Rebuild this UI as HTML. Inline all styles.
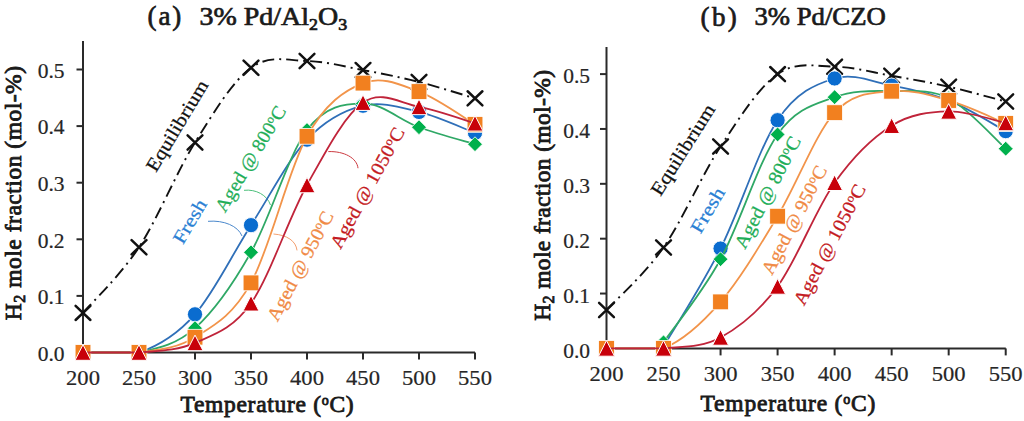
<!DOCTYPE html>
<html><head><meta charset="utf-8"><style>
html,body{margin:0;padding:0;background:#fff;}
body{width:1024px;height:421px;overflow:hidden;}
svg{display:block;}
text{font-family:"Liberation Serif",serif;}
.tk{font-size:21.5px;fill:#262626;stroke:#262626;stroke-width:0.2px;}
.tt{font-size:25px;font-weight:normal;fill:#1a1a1a;stroke:#1a1a1a;stroke-width:0.7px;}
.at{font-size:23.5px;font-weight:normal;fill:#1a1a1a;stroke:#1a1a1a;stroke-width:0.85px;}
.lb{font-size:19px;stroke-width:0.25px;}
</style></head><body>
<svg width="1024" height="421" viewBox="0 0 1024 421">
<path d="M83.00,41.00 V352.50 H475.00" fill="none" stroke="#2a2a2a" stroke-width="2"/>
<line x1="76.50" y1="352.50" x2="83.00" y2="352.50" stroke="#2a2a2a" stroke-width="2"/>
<line x1="76.50" y1="295.90" x2="83.00" y2="295.90" stroke="#2a2a2a" stroke-width="2"/>
<line x1="76.50" y1="239.30" x2="83.00" y2="239.30" stroke="#2a2a2a" stroke-width="2"/>
<line x1="76.50" y1="182.70" x2="83.00" y2="182.70" stroke="#2a2a2a" stroke-width="2"/>
<line x1="76.50" y1="126.10" x2="83.00" y2="126.10" stroke="#2a2a2a" stroke-width="2"/>
<line x1="76.50" y1="69.50" x2="83.00" y2="69.50" stroke="#2a2a2a" stroke-width="2"/>
<line x1="83.00" y1="352.50" x2="83.00" y2="359.50" stroke="#2a2a2a" stroke-width="2"/>
<line x1="139.00" y1="352.50" x2="139.00" y2="359.50" stroke="#2a2a2a" stroke-width="2"/>
<line x1="195.00" y1="352.50" x2="195.00" y2="359.50" stroke="#2a2a2a" stroke-width="2"/>
<line x1="251.00" y1="352.50" x2="251.00" y2="359.50" stroke="#2a2a2a" stroke-width="2"/>
<line x1="307.00" y1="352.50" x2="307.00" y2="359.50" stroke="#2a2a2a" stroke-width="2"/>
<line x1="363.00" y1="352.50" x2="363.00" y2="359.50" stroke="#2a2a2a" stroke-width="2"/>
<line x1="419.00" y1="352.50" x2="419.00" y2="359.50" stroke="#2a2a2a" stroke-width="2"/>
<line x1="475.00" y1="352.50" x2="475.00" y2="359.50" stroke="#2a2a2a" stroke-width="2"/>
<path d="M606.50,47.00 V348.40 H1005.80" fill="none" stroke="#2a2a2a" stroke-width="2"/>
<line x1="600.00" y1="348.40" x2="606.50" y2="348.40" stroke="#2a2a2a" stroke-width="2"/>
<line x1="600.00" y1="293.54" x2="606.50" y2="293.54" stroke="#2a2a2a" stroke-width="2"/>
<line x1="600.00" y1="238.68" x2="606.50" y2="238.68" stroke="#2a2a2a" stroke-width="2"/>
<line x1="600.00" y1="183.82" x2="606.50" y2="183.82" stroke="#2a2a2a" stroke-width="2"/>
<line x1="600.00" y1="128.96" x2="606.50" y2="128.96" stroke="#2a2a2a" stroke-width="2"/>
<line x1="600.00" y1="74.10" x2="606.50" y2="74.10" stroke="#2a2a2a" stroke-width="2"/>
<line x1="606.50" y1="348.40" x2="606.50" y2="355.40" stroke="#2a2a2a" stroke-width="2"/>
<line x1="663.53" y1="348.40" x2="663.53" y2="355.40" stroke="#2a2a2a" stroke-width="2"/>
<line x1="720.56" y1="348.40" x2="720.56" y2="355.40" stroke="#2a2a2a" stroke-width="2"/>
<line x1="777.59" y1="348.40" x2="777.59" y2="355.40" stroke="#2a2a2a" stroke-width="2"/>
<line x1="834.62" y1="348.40" x2="834.62" y2="355.40" stroke="#2a2a2a" stroke-width="2"/>
<line x1="891.65" y1="348.40" x2="891.65" y2="355.40" stroke="#2a2a2a" stroke-width="2"/>
<line x1="948.68" y1="348.40" x2="948.68" y2="355.40" stroke="#2a2a2a" stroke-width="2"/>
<line x1="1005.71" y1="348.40" x2="1005.71" y2="355.40" stroke="#2a2a2a" stroke-width="2"/>
<text transform="translate(64.50,360.70) scale(1.000,1)" text-anchor="end" class="tk">0.0</text>
<text transform="translate(64.50,304.10) scale(1.000,1)" text-anchor="end" class="tk">0.1</text>
<text transform="translate(64.50,247.50) scale(1.000,1)" text-anchor="end" class="tk">0.2</text>
<text transform="translate(64.50,190.90) scale(1.000,1)" text-anchor="end" class="tk">0.3</text>
<text transform="translate(64.50,134.30) scale(1.000,1)" text-anchor="end" class="tk">0.4</text>
<text transform="translate(64.50,77.70) scale(1.000,1)" text-anchor="end" class="tk">0.5</text>
<text transform="translate(83.00,384.90) scale(1.050,1)" text-anchor="middle" class="tk">200</text>
<text transform="translate(139.00,384.90) scale(1.050,1)" text-anchor="middle" class="tk">250</text>
<text transform="translate(195.00,384.90) scale(1.050,1)" text-anchor="middle" class="tk">300</text>
<text transform="translate(251.00,384.90) scale(1.050,1)" text-anchor="middle" class="tk">350</text>
<text transform="translate(307.00,384.90) scale(1.050,1)" text-anchor="middle" class="tk">400</text>
<text transform="translate(363.00,384.90) scale(1.050,1)" text-anchor="middle" class="tk">450</text>
<text transform="translate(419.00,384.90) scale(1.050,1)" text-anchor="middle" class="tk">500</text>
<text transform="translate(475.00,384.90) scale(1.050,1)" text-anchor="middle" class="tk">550</text>
<text transform="translate(590.00,357.60) scale(1.000,1)" text-anchor="end" class="tk">0.0</text>
<text transform="translate(590.00,302.74) scale(1.000,1)" text-anchor="end" class="tk">0.1</text>
<text transform="translate(590.00,247.88) scale(1.000,1)" text-anchor="end" class="tk">0.2</text>
<text transform="translate(590.00,193.02) scale(1.000,1)" text-anchor="end" class="tk">0.3</text>
<text transform="translate(590.00,138.16) scale(1.000,1)" text-anchor="end" class="tk">0.4</text>
<text transform="translate(590.00,83.30) scale(1.000,1)" text-anchor="end" class="tk">0.5</text>
<text transform="translate(606.50,380.60) scale(1.050,1)" text-anchor="middle" class="tk">200</text>
<text transform="translate(663.53,380.60) scale(1.050,1)" text-anchor="middle" class="tk">250</text>
<text transform="translate(720.56,380.60) scale(1.050,1)" text-anchor="middle" class="tk">300</text>
<text transform="translate(777.59,380.60) scale(1.050,1)" text-anchor="middle" class="tk">350</text>
<text transform="translate(834.62,380.60) scale(1.050,1)" text-anchor="middle" class="tk">400</text>
<text transform="translate(891.65,380.60) scale(1.050,1)" text-anchor="middle" class="tk">450</text>
<text transform="translate(948.68,380.60) scale(1.050,1)" text-anchor="middle" class="tk">500</text>
<text transform="translate(1005.71,380.60) scale(1.050,1)" text-anchor="middle" class="tk">550</text>
<text transform="translate(147.5,25.3) scale(1.0,1)" class="tt" style="font-size:27px" letter-spacing="1.9">(a)</text>
<text transform="translate(199.5,24.8) scale(1.119,1)" class="tt">3% Pd/Al<tspan dy="5" font-size="16">2</tspan><tspan dy="-5">O</tspan><tspan dy="5" font-size="16">3</tspan></text>
<text transform="translate(700.5,25.8) scale(1.0,1)" class="tt" style="font-size:27px" letter-spacing="2.4">(b)</text>
<text transform="translate(754.5,25.3) scale(1.068,1)" class="tt">3% Pd/CZO</text>
<text transform="translate(21.3,320.2) rotate(-90) scale(1.0,1)" class="at" letter-spacing="0.52">H<tspan dy="4" font-size="16">2</tspan><tspan dy="-4"> mole fraction (mol-%)</tspan></text>
<text transform="translate(549.5,320.8) rotate(-90) scale(1.0,1)" class="at" letter-spacing="0.37">H<tspan dy="4" font-size="16">2</tspan><tspan dy="-4"> mole fraction (mol-%)</tspan></text>
<text transform="translate(180.5,412.3) scale(1.0,1)" class="at" letter-spacing="0.7">Temperature (<tspan dy="-7" font-size="14">o</tspan><tspan dy="7">C)</tspan></text>
<text transform="translate(700.5,411.4) scale(1.0,1)" class="at" letter-spacing="0.82">Temperature (<tspan dy="-7" font-size="14">o</tspan><tspan dy="7">C)</tspan></text>
<text transform="translate(156.00,173.00) rotate(-59.00) scale(1.120,1)" class="lb" fill="#111" stroke="#111">Equilibrium</text>
<text transform="translate(183.00,245.30) rotate(-59.50) scale(1.140,1)" class="lb" fill="#2a7fd4" stroke="#2a7fd4">Fresh</text>
<text transform="translate(225.00,213.50) rotate(-59.00) scale(1.040,1)" class="lb" fill="#1fae58" stroke="#1fae58">Aged @ 800<tspan dy="-6" font-size="12">o</tspan><tspan dy="6">C</tspan></text>
<text transform="translate(277.50,322.50) rotate(-62.00) scale(1.050,1)" class="lb" fill="#f08a45" stroke="#f08a45">Aged @ 950<tspan dy="-6" font-size="12">o</tspan><tspan dy="6">C</tspan></text>
<text transform="translate(340.50,250.00) rotate(-61.30) scale(1.080,1)" class="lb" fill="#c41a22" stroke="#c41a22">Aged @ 1050<tspan dy="-6" font-size="12">o</tspan><tspan dy="6">C</tspan></text>
<text transform="translate(660.50,197.00) rotate(-57.80) scale(1.130,1)" class="lb" fill="#111" stroke="#111">Equilibrium</text>
<text transform="translate(700.50,234.80) rotate(-59.50) scale(1.170,1)" class="lb" fill="#2a7fd4" stroke="#2a7fd4">Fresh</text>
<text transform="translate(745.00,250.00) rotate(-62.70) scale(1.070,1)" class="lb" fill="#1fae58" stroke="#1fae58">Aged @ 800<tspan dy="-6" font-size="12">o</tspan><tspan dy="6">C</tspan></text>
<text transform="translate(772.00,276.00) rotate(-62.30) scale(1.040,1)" class="lb" fill="#f08a45" stroke="#f08a45">Aged @ 950<tspan dy="-6" font-size="12">o</tspan><tspan dy="6">C</tspan></text>
<text transform="translate(804.00,306.50) rotate(-62.20) scale(1.070,1)" class="lb" fill="#c41a22" stroke="#c41a22">Aged @ 1050<tspan dy="-6" font-size="12">o</tspan><tspan dy="6">C</tspan></text>
<path d="M208,221.3 C224,220 238,226 242,236" fill="none" stroke="#4a88cc" stroke-width="1"/>
<path d="M244,190.3 C256,189 267,195 270.5,205" fill="none" stroke="#4cbf7a" stroke-width="1"/>
<path d="M297,250.4 C296,241 287,235 273.5,234" fill="none" stroke="#f4a070" stroke-width="1"/>
<path d="M358,168.2 C357,158 344,151 328.3,151.6" fill="none" stroke="#cc3a40" stroke-width="1"/>
<path d="M83.00,312.88 C92.33,301.94 120.33,275.62 139.00,247.22 C157.67,218.83 176.33,172.42 195.00,142.51 C213.67,112.61 232.33,81.39 251.00,67.80 C269.67,54.22 288.33,60.63 307.00,61.01 C325.67,61.39 344.33,66.58 363.00,70.07 C381.67,73.56 400.33,77.24 419.00,81.95 C437.67,86.67 465.67,95.63 475.00,98.37" fill="none" stroke="#111" stroke-width="1.9" stroke-dasharray="12 5 2 5"/>
<path d="M75.60,305.78 L90.40,319.98 M75.60,319.98 L90.40,305.78" stroke="#111" stroke-width="2.5" stroke-linecap="round" fill="none"/>
<path d="M131.60,240.12 L146.40,254.32 M131.60,254.32 L146.40,240.12" stroke="#111" stroke-width="2.5" stroke-linecap="round" fill="none"/>
<path d="M187.60,135.41 L202.40,149.61 M187.60,149.61 L202.40,135.41" stroke="#111" stroke-width="2.5" stroke-linecap="round" fill="none"/>
<path d="M243.60,60.70 L258.40,74.90 M243.60,74.90 L258.40,60.70" stroke="#111" stroke-width="2.5" stroke-linecap="round" fill="none"/>
<path d="M299.60,53.91 L314.40,68.11 M299.60,68.11 L314.40,53.91" stroke="#111" stroke-width="2.5" stroke-linecap="round" fill="none"/>
<path d="M355.60,62.97 L370.40,77.17 M355.60,77.17 L370.40,62.97" stroke="#111" stroke-width="2.5" stroke-linecap="round" fill="none"/>
<path d="M411.60,74.85 L426.40,89.05 M411.60,89.05 L426.40,74.85" stroke="#111" stroke-width="2.5" stroke-linecap="round" fill="none"/>
<path d="M467.60,91.27 L482.40,105.47 M467.60,105.47 L482.40,91.27" stroke="#111" stroke-width="2.5" stroke-linecap="round" fill="none"/>
<path d="M83.00,352.50 C92.33,352.50 120.33,352.50 139.00,352.50 C157.67,346.13 176.33,335.52 195.00,314.30 C213.67,293.07 232.33,254.25 251.00,225.15 C269.67,196.05 288.33,159.59 307.00,139.68 C325.67,119.78 344.33,110.35 363.00,105.72 C381.67,101.10 400.33,107.42 419.00,111.95 C437.67,116.48 465.67,129.40 475.00,132.89" fill="none" stroke="#2f6fb8" stroke-width="1.8"/>
<circle cx="83.00" cy="352.50" r="7.6" fill="#0a6ccf" stroke="#fff" stroke-width="0.9"/>
<circle cx="139.00" cy="352.50" r="7.6" fill="#0a6ccf" stroke="#fff" stroke-width="0.9"/>
<circle cx="195.00" cy="314.30" r="7.6" fill="#0a6ccf" stroke="#fff" stroke-width="0.9"/>
<circle cx="251.00" cy="225.15" r="7.6" fill="#0a6ccf" stroke="#fff" stroke-width="0.9"/>
<circle cx="307.00" cy="139.68" r="7.6" fill="#0a6ccf" stroke="#fff" stroke-width="0.9"/>
<circle cx="363.00" cy="105.72" r="7.6" fill="#0a6ccf" stroke="#fff" stroke-width="0.9"/>
<circle cx="419.00" cy="111.95" r="7.6" fill="#0a6ccf" stroke="#fff" stroke-width="0.9"/>
<circle cx="475.00" cy="132.89" r="7.6" fill="#0a6ccf" stroke="#fff" stroke-width="0.9"/>
<path d="M83.00,352.50 C92.33,352.50 120.33,352.50 139.00,352.50 C157.67,348.44 176.33,344.86 195.00,328.16 C213.67,311.46 232.33,285.33 251.00,252.32 C269.67,219.30 288.33,154.87 307.00,130.06 C325.67,105.25 344.33,103.93 363.00,103.46 C381.67,102.99 400.33,120.44 419.00,127.23 C437.67,134.02 465.67,141.38 475.00,144.21" fill="none" stroke="#2fa866" stroke-width="1.8"/>
<path d="M83.00,345.10 L90.40,352.50 L83.00,359.90 L75.60,352.50 Z" fill="#00b04c" stroke="#fff" stroke-width="0.8"/>
<path d="M139.00,345.10 L146.40,352.50 L139.00,359.90 L131.60,352.50 Z" fill="#00b04c" stroke="#fff" stroke-width="0.8"/>
<path d="M195.00,320.76 L202.40,328.16 L195.00,335.56 L187.60,328.16 Z" fill="#00b04c" stroke="#fff" stroke-width="0.8"/>
<path d="M251.00,244.92 L258.40,252.32 L251.00,259.72 L243.60,252.32 Z" fill="#00b04c" stroke="#fff" stroke-width="0.8"/>
<path d="M307.00,122.66 L314.40,130.06 L307.00,137.46 L299.60,130.06 Z" fill="#00b04c" stroke="#fff" stroke-width="0.8"/>
<path d="M363.00,96.06 L370.40,103.46 L363.00,110.86 L355.60,103.46 Z" fill="#00b04c" stroke="#fff" stroke-width="0.8"/>
<path d="M419.00,119.83 L426.40,127.23 L419.00,134.63 L411.60,127.23 Z" fill="#00b04c" stroke="#fff" stroke-width="0.8"/>
<path d="M475.00,136.81 L482.40,144.21 L475.00,151.61 L467.60,144.21 Z" fill="#00b04c" stroke="#fff" stroke-width="0.8"/>
<path d="M83.00,352.50 C92.33,352.50 120.33,352.50 139.00,352.50 C157.67,349.95 176.33,348.82 195.00,337.22 C213.67,325.62 232.33,316.37 251.00,282.88 C269.67,249.39 288.33,169.59 307.00,136.29 C325.67,102.99 344.33,90.54 363.00,83.08 C381.67,75.63 400.33,84.69 419.00,91.57 C437.67,98.46 465.67,118.93 475.00,124.40" fill="none" stroke="#f2944a" stroke-width="1.8"/>
<rect x="75.10" y="344.60" width="15.80" height="15.80" fill="#f2801f" stroke="#fff" stroke-width="0.8"/>
<rect x="131.10" y="344.60" width="15.80" height="15.80" fill="#f2801f" stroke="#fff" stroke-width="0.8"/>
<rect x="187.10" y="329.32" width="15.80" height="15.80" fill="#f2801f" stroke="#fff" stroke-width="0.8"/>
<rect x="243.10" y="274.98" width="15.80" height="15.80" fill="#f2801f" stroke="#fff" stroke-width="0.8"/>
<rect x="299.10" y="128.39" width="15.80" height="15.80" fill="#f2801f" stroke="#fff" stroke-width="0.8"/>
<rect x="355.10" y="75.18" width="15.80" height="15.80" fill="#f2801f" stroke="#fff" stroke-width="0.8"/>
<rect x="411.10" y="83.67" width="15.80" height="15.80" fill="#f2801f" stroke="#fff" stroke-width="0.8"/>
<rect x="467.10" y="116.50" width="15.80" height="15.80" fill="#f2801f" stroke="#fff" stroke-width="0.8"/>
<path d="M83.00,352.50 C92.33,352.50 120.33,352.50 139.00,352.50 C157.67,350.90 176.33,351.08 195.00,342.88 C213.67,334.67 232.33,329.58 251.00,303.26 C269.67,276.94 288.33,218.41 307.00,184.96 C325.67,151.52 344.33,115.63 363.00,102.61 C381.67,89.59 400.33,103.41 419.00,106.86 C437.67,110.30 465.67,120.53 475.00,123.27" fill="none" stroke="#c0243a" stroke-width="1.8"/>
<path d="M83.00,344.70 L91.00,360.30 L75.00,360.30 Z" fill="#c8000a" stroke="#fff" stroke-width="1"/>
<path d="M139.00,344.70 L147.00,360.30 L131.00,360.30 Z" fill="#c8000a" stroke="#fff" stroke-width="1"/>
<path d="M195.00,335.08 L203.00,350.68 L187.00,350.68 Z" fill="#c8000a" stroke="#fff" stroke-width="1"/>
<path d="M251.00,295.46 L259.00,311.06 L243.00,311.06 Z" fill="#c8000a" stroke="#fff" stroke-width="1"/>
<path d="M307.00,177.16 L315.00,192.76 L299.00,192.76 Z" fill="#c8000a" stroke="#fff" stroke-width="1"/>
<path d="M363.00,94.81 L371.00,110.41 L355.00,110.41 Z" fill="#c8000a" stroke="#fff" stroke-width="1"/>
<path d="M419.00,99.06 L427.00,114.66 L411.00,114.66 Z" fill="#c8000a" stroke="#fff" stroke-width="1"/>
<path d="M475.00,115.47 L483.00,131.07 L467.00,131.07 Z" fill="#c8000a" stroke="#fff" stroke-width="1"/>
<path d="M606.50,310.00 C616.00,299.57 644.52,274.70 663.53,247.46 C682.54,220.21 701.55,175.41 720.56,146.52 C739.57,117.62 758.58,87.40 777.59,74.10 C796.60,60.80 815.61,66.42 834.62,66.69 C853.63,66.97 872.64,72.41 891.65,75.75 C910.66,79.08 929.67,82.42 948.68,86.72 C967.69,91.02 996.21,99.06 1005.71,101.53" fill="none" stroke="#111" stroke-width="1.9" stroke-dasharray="12 5 2 5"/>
<path d="M599.10,302.90 L613.90,317.10 M599.10,317.10 L613.90,302.90" stroke="#111" stroke-width="2.5" stroke-linecap="round" fill="none"/>
<path d="M656.13,240.36 L670.93,254.56 M656.13,254.56 L670.93,240.36" stroke="#111" stroke-width="2.5" stroke-linecap="round" fill="none"/>
<path d="M713.16,139.42 L727.96,153.62 M713.16,153.62 L727.96,139.42" stroke="#111" stroke-width="2.5" stroke-linecap="round" fill="none"/>
<path d="M770.19,67.00 L784.99,81.20 M770.19,81.20 L784.99,67.00" stroke="#111" stroke-width="2.5" stroke-linecap="round" fill="none"/>
<path d="M827.22,59.59 L842.02,73.79 M827.22,73.79 L842.02,59.59" stroke="#111" stroke-width="2.5" stroke-linecap="round" fill="none"/>
<path d="M884.25,68.65 L899.05,82.85 M884.25,82.85 L899.05,68.65" stroke="#111" stroke-width="2.5" stroke-linecap="round" fill="none"/>
<path d="M941.28,79.62 L956.08,93.82 M941.28,93.82 L956.08,79.62" stroke="#111" stroke-width="2.5" stroke-linecap="round" fill="none"/>
<path d="M998.31,94.43 L1013.11,108.63 M998.31,108.63 L1013.11,94.43" stroke="#111" stroke-width="2.5" stroke-linecap="round" fill="none"/>
<path d="M663.53,346.75 C673.03,330.39 701.55,286.32 720.56,248.55 C739.57,210.79 758.58,148.53 777.59,120.18 C796.60,91.84 815.61,84.25 834.62,78.49 C853.63,72.73 872.64,81.96 891.65,85.62 C910.66,89.28 929.67,92.84 948.68,100.43 C967.69,108.02 996.21,126.03 1005.71,131.15" fill="none" stroke="#2f6fb8" stroke-width="1.8"/>
<circle cx="663.53" cy="346.75" r="7.6" fill="#0a6ccf" stroke="#fff" stroke-width="0.9"/>
<circle cx="720.56" cy="248.55" r="7.6" fill="#0a6ccf" stroke="#fff" stroke-width="0.9"/>
<circle cx="777.59" cy="120.18" r="7.6" fill="#0a6ccf" stroke="#fff" stroke-width="0.9"/>
<circle cx="834.62" cy="78.49" r="7.6" fill="#0a6ccf" stroke="#fff" stroke-width="0.9"/>
<circle cx="891.65" cy="85.62" r="7.6" fill="#0a6ccf" stroke="#fff" stroke-width="0.9"/>
<circle cx="948.68" cy="100.43" r="7.6" fill="#0a6ccf" stroke="#fff" stroke-width="0.9"/>
<circle cx="1005.71" cy="131.15" r="7.6" fill="#0a6ccf" stroke="#fff" stroke-width="0.9"/>
<path d="M663.53,342.37 C673.03,328.50 701.55,293.85 720.56,259.20 C739.57,224.54 758.58,161.46 777.59,134.45 C796.60,107.44 815.61,104.36 834.62,97.14 C853.63,89.92 872.64,90.92 891.65,91.11 C910.66,91.29 929.67,88.64 948.68,98.24 C967.69,107.84 996.21,140.30 1005.71,148.71" fill="none" stroke="#2fa866" stroke-width="1.8"/>
<path d="M663.53,334.97 L670.93,342.37 L663.53,349.77 L656.13,342.37 Z" fill="#00b04c" stroke="#fff" stroke-width="0.8"/>
<path d="M720.56,251.80 L727.96,259.20 L720.56,266.60 L713.16,259.20 Z" fill="#00b04c" stroke="#fff" stroke-width="0.8"/>
<path d="M777.59,127.05 L784.99,134.45 L777.59,141.85 L770.19,134.45 Z" fill="#00b04c" stroke="#fff" stroke-width="0.8"/>
<path d="M834.62,89.74 L842.02,97.14 L834.62,104.54 L827.22,97.14 Z" fill="#00b04c" stroke="#fff" stroke-width="0.8"/>
<path d="M891.65,83.71 L899.05,91.11 L891.65,98.51 L884.25,91.11 Z" fill="#00b04c" stroke="#fff" stroke-width="0.8"/>
<path d="M948.68,90.84 L956.08,98.24 L948.68,105.64 L941.28,98.24 Z" fill="#00b04c" stroke="#fff" stroke-width="0.8"/>
<path d="M1005.71,141.31 L1013.11,148.71 L1005.71,156.11 L998.31,148.71 Z" fill="#00b04c" stroke="#fff" stroke-width="0.8"/>
<path d="M606.50,348.40 C616.00,348.40 644.52,348.40 663.53,348.40 C682.54,340.65 701.55,323.91 720.56,301.88 C739.57,279.84 758.58,247.72 777.59,216.19 C796.60,184.65 815.61,133.50 834.62,112.67 C853.63,91.84 872.64,93.26 891.65,91.22 C910.66,89.18 929.67,95.06 948.68,100.43 C967.69,105.81 996.21,119.63 1005.71,123.47" fill="none" stroke="#f2944a" stroke-width="1.8"/>
<rect x="598.60" y="340.50" width="15.80" height="15.80" fill="#f2801f" stroke="#fff" stroke-width="0.8"/>
<rect x="655.63" y="340.50" width="15.80" height="15.80" fill="#f2801f" stroke="#fff" stroke-width="0.8"/>
<rect x="712.66" y="293.98" width="15.80" height="15.80" fill="#f2801f" stroke="#fff" stroke-width="0.8"/>
<rect x="769.69" y="208.29" width="15.80" height="15.80" fill="#f2801f" stroke="#fff" stroke-width="0.8"/>
<rect x="826.72" y="104.77" width="15.80" height="15.80" fill="#f2801f" stroke="#fff" stroke-width="0.8"/>
<rect x="883.75" y="83.32" width="15.80" height="15.80" fill="#f2801f" stroke="#fff" stroke-width="0.8"/>
<rect x="940.78" y="92.53" width="15.80" height="15.80" fill="#f2801f" stroke="#fff" stroke-width="0.8"/>
<rect x="997.81" y="115.57" width="15.80" height="15.80" fill="#f2801f" stroke="#fff" stroke-width="0.8"/>
<path d="M606.50,348.40 C616.00,348.40 644.52,348.40 663.53,348.40 C682.54,346.57 701.55,347.76 720.56,337.43 C739.57,327.10 758.58,312.19 777.59,286.41 C796.60,260.62 815.61,209.51 834.62,182.72 C853.63,155.93 872.64,137.55 891.65,125.67 C910.66,113.78 929.67,111.86 948.68,111.40 C967.69,110.95 996.21,121.01 1005.71,122.93" fill="none" stroke="#c0243a" stroke-width="1.8"/>
<path d="M606.50,340.60 L614.50,356.20 L598.50,356.20 Z" fill="#c8000a" stroke="#fff" stroke-width="1"/>
<path d="M663.53,340.60 L671.53,356.20 L655.53,356.20 Z" fill="#c8000a" stroke="#fff" stroke-width="1"/>
<path d="M720.56,329.63 L728.56,345.23 L712.56,345.23 Z" fill="#c8000a" stroke="#fff" stroke-width="1"/>
<path d="M777.59,278.61 L785.59,294.21 L769.59,294.21 Z" fill="#c8000a" stroke="#fff" stroke-width="1"/>
<path d="M834.62,174.92 L842.62,190.52 L826.62,190.52 Z" fill="#c8000a" stroke="#fff" stroke-width="1"/>
<path d="M891.65,117.87 L899.65,133.47 L883.65,133.47 Z" fill="#c8000a" stroke="#fff" stroke-width="1"/>
<path d="M948.68,103.60 L956.68,119.20 L940.68,119.20 Z" fill="#c8000a" stroke="#fff" stroke-width="1"/>
<path d="M1005.71,115.13 L1013.71,130.73 L997.71,130.73 Z" fill="#c8000a" stroke="#fff" stroke-width="1"/>
</svg>
</body></html>
